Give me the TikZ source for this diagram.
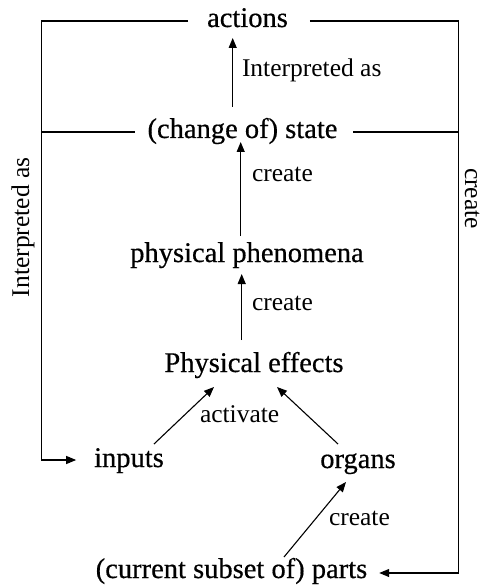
\documentclass[tikz,border=0pt]{standalone}
\usepackage{fontspec}
\setmainfont{Liberation Serif}
\newfontfamily\termfont[FakeBold=0.5]{Liberation Serif}
\usetikzlibrary{arrows.meta}

\begin{document}
\begin{tikzpicture}[x=1pt,y=-1pt,
  term/.style={inner sep=0pt,outer sep=0pt,text height=14pt,text depth=0pt,font=\termfont\fontsize{28.5}{34}\selectfont},
  lbl/.style={inner sep=0pt,outer sep=0pt,anchor=base west,font=\fontsize{25.5}{30}\selectfont},
  wire/.style={draw=black,line width=1.1pt},
  arr/.style={wire,-{Triangle[length=10pt,width=8pt]}}]
\path[use as bounding box] (0,0) rectangle (482,588);
\path[fill=white,draw=none] (0,0) rectangle (482,588);
\coordinate (lft) at (41.5,0);
\coordinate (rgt) at (458.5,0);
\node[term] (actions) at (247.5,20) {actions};
\node[term] (state) at (242.5,131) {(change of) state};
\node[term] (phen) at (247,255) {physical phenomena};
\node[term] (effects) at (254,365) {Physical effects};
\node[term] (inputs) at (129,460) {inputs};
\node[term] (organs) at (358,461) {organs};
\node[term] (parts) at (231.5,571) {(current subset of) parts};
\draw[arr] ([shift={(-9.8,-17)}]state.north) -- ([shift={(-14.8,11)}]actions.south);
\draw[arr] ([shift={(-6.3,-12)}]phen.north) -- ([shift={(-1.8,4)}]state.south);
\draw[arr] ([shift={(-12.3,-18)}]effects.north) -- ([shift={(-5.3,12)}]phen.south);
\draw[arr] ([shift={(25,-9)}]inputs.north) -- ([shift={(-40,15)}]effects.south);
\draw[arr] ([shift={(-20,-10)}]organs.north) -- ([shift={(23,15)}]effects.south);
\draw[arr] ([shift={(52.5,-7)}]parts.north) -- ([shift={(-12,14)}]organs.south);
\draw[arr] ([shift={(-19,1)}]actions.west) -| (lft |- inputs.west) -- ([shift={(-18,0)}]inputs.west);
\draw[wire] ([shift={(-12.6,1)}]state.west) coordinate (sw) -- (sw -| lft);
\draw[wire] ([shift={(15.6,1)}]state.east) coordinate (se) -- (se -| rgt);
\coordinate (parts-in) at ([shift={(12,2)}]parts.east);
\draw[arr] ([shift={(22,1)}]actions.east) -| (rgt |- parts-in) -- (parts-in);
\node[lbl] (interp-top) at (242,77) {Interpreted as};
\node[lbl] (create-state) at (252,181) {create};
\node[lbl] (create-phen) at (252,310) {create};
\node[lbl] (activate) at (200,422) {activate};
\node[lbl] (create-organs) at (329,525) {create};
\node[lbl,rotate=90] (interp-left) at (29,297) {Interpreted as};
\node[lbl,rotate=-90] (create-right) at (465,168) {create};
\end{tikzpicture}
\end{document}
